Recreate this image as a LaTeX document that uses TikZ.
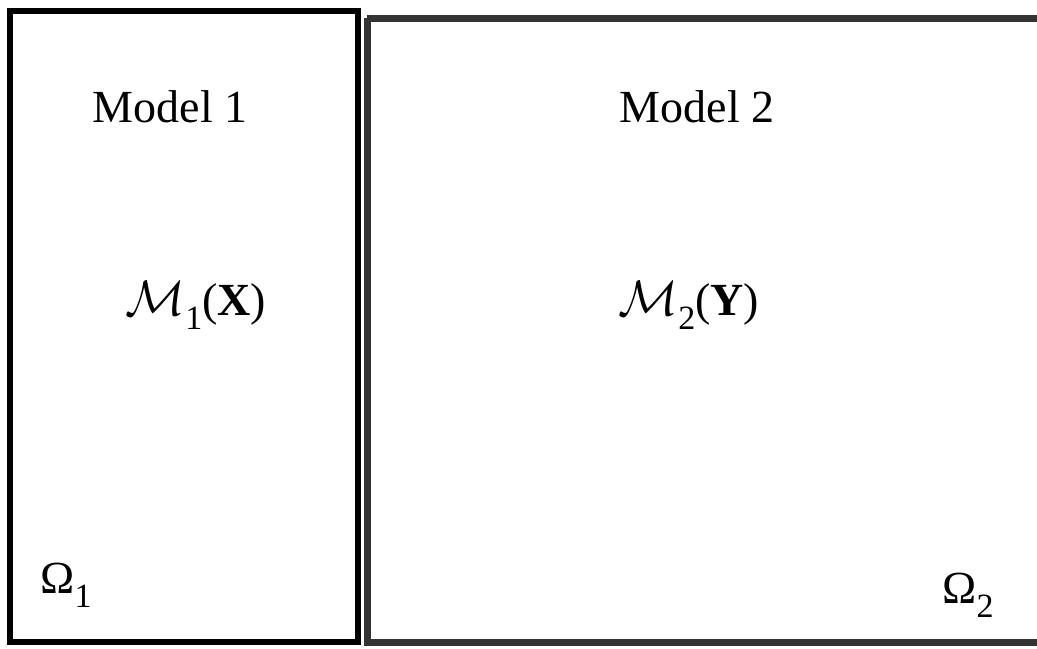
\documentclass[tikz,border=0pt]{standalone}
\usepackage{fontspec}
\setmainfont{Liberation Serif}
\usetikzlibrary{positioning}
\newcommand{\lowidx}[1]{\raisebox{-7pt}{\fontsize{17}{19}\selectfont #1}}

\begin{document}
\begin{tikzpicture}[x=0.5pt,y=-0.5pt,
    lbl/.style={font=\fontsize{23}{26}\selectfont, inner sep=0pt, anchor=base}]
    \useasboundingbox (0,0) rectangle (1037,648);

    \draw[line width=3pt, black] (10,11) rectangle (358,642);
    \draw[line width=3.5pt, black!80] (367,18) -- (1060,18) (367,18) -- (367,642) -- (1060,642);

    \node[lbl] (title1) at (170,122) {Model 1};
    \node[lbl] (title2) at (697,122) {Model 2};
    \node[lbl] (model1) at (196,315) {$\mathcal{M}$\lowidx{1}(\textbf{X})};
    \node[lbl] (model2) at (689,315) {$\mathcal{M}$\lowidx{2}(\textbf{Y})};
    \node[lbl, anchor=base west] (omega1) at (40,593) {Ω\lowidx{1}};
    \node[lbl, anchor=base west] (omega2) at (942,603) {Ω\lowidx{2}};
\end{tikzpicture}
\end{document}
